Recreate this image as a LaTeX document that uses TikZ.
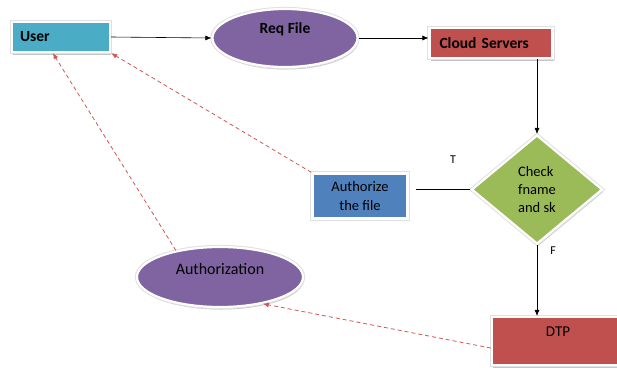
\documentclass[tikz,border=0pt]{standalone}
\usepackage{fontspec}
\setmainfont{Carlito}
\usetikzlibrary{shapes.geometric,shadows,arrows.meta}

\definecolor{tealfill}{HTML}{4BACC6}
\definecolor{purplefill}{HTML}{8064A2}
\definecolor{redfill}{HTML}{C0504D}
\definecolor{bluefill}{HTML}{4F81BD}
\definecolor{greenfill}{HTML}{9BBB59}
\definecolor{dashred}{RGB}{205,90,85}

\begin{document}
\begin{tikzpicture}[x=1pt,y=-1pt,
  shapebase/.style={draw=white, line width=2.2pt, inner sep=0pt,
    drop shadow={shadow xshift=1pt, shadow yshift=-2.5pt, fill=black!45, opacity=.5},
    preaction={draw=black!12, line width=4.2pt},
    font=\fontsize{14.5}{18.5}\selectfont},
  boxnode/.style={shapebase, rectangle},
  ovalnode/.style={shapebase, ellipse},
  boldtext/.style={font=\fontsize{15.5}{18}\selectfont\bfseries},
  flow/.style={line width=0.6pt, -{Latex[length=6pt,width=5pt]}},
  backflow/.style={draw=dashred, line width=0.8pt, dash pattern=on 4pt off 3pt,
    -{Latex[length=6pt,width=5pt]}},
  letter/.style={font=\fontsize{12}{14}\selectfont}]

\clip (0,0) rectangle (617,367);
\fill[white] (0,0) rectangle (617,367);

% main request path
\node[boxnode, boldtext, fill=tealfill, minimum width=98pt, minimum height=30pt,
      text width=82pt, align=left] (user) at (61,37) {User};
\node[ovalnode, boldtext, fill=purplefill, minimum width=145pt, minimum height=58pt,
      text height=11pt, text depth=19.2pt] (req) at (285,38) {Req File};
\node[boxnode, boldtext, fill=redfill, minimum width=123pt, minimum height=30pt,
      text width=103pt, align=left] (cloud) at (491,43) {Cloud Servers};

% decision and its outcomes
\node[shapebase, diamond, fill=greenfill, minimum width=131pt, minimum height=109pt,
      align=left, font=\fontsize{14.5}{18}\selectfont] (dia) at (537,189.5) {Check\\fname\\and sk};
\node[boxnode, fill=bluefill, minimum width=95pt, minimum height=45pt,
      align=center] (authf) at (360,196) {Authorize\\the file};
\node[boxnode, fill=redfill, minimum width=132pt, minimum height=48pt,
      font=\fontsize{15}{18}\selectfont,
      text height=11pt, text depth=19.6pt] (dtp) at (558,341) {DTP};
\node[ovalnode, fill=purplefill, minimum width=166pt, minimum height=60pt,
      font=\fontsize{16}{18}\selectfont,
      text height=11pt, text depth=17pt] (authz) at (220,277) {Authorization};

\node[letter] (tlab) at (453,160) {T};
\node[letter] (flab) at (553,251) {F};

% solid connectors
\draw[flow] (user.east) -- (req.west);
\draw[flow] (req.east) -- (req.east -| cloud.west);
\draw[flow] (cloud.south -| dia.north) -- (dia.north);
\draw[line width=0.6pt, shorten <=7pt] (authf.east |- dia.west) -- (dia.west);
\draw[flow] (dia.south) -- (dtp.north -| dia.south);

% dashed return paths
\draw[backflow] (dtp.186) -- (authz.-32);
\draw[backflow] (authz.149) -- (user.243);
\draw[backflow] (authf.north west) -- (user.south east);
\end{tikzpicture}
\end{document}
